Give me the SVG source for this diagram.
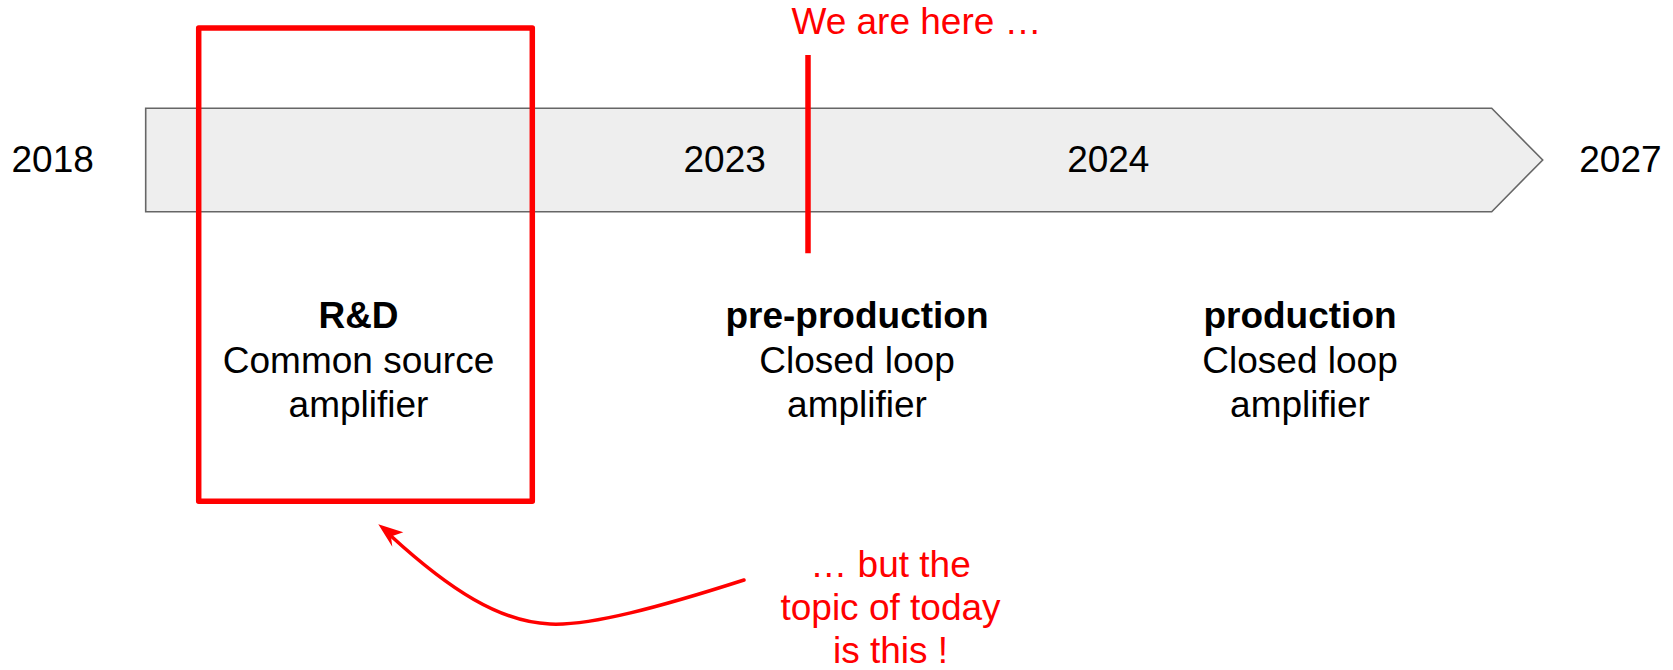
<svg xmlns="http://www.w3.org/2000/svg" width="1673" height="670" viewBox="0 0 1673 670">
  <style>
    text { font-family: "Liberation Sans", Arial, sans-serif; font-size: 37px; text-anchor: middle; }
    .dark { fill: #000000; }
    .hot { fill: #ff0000; }
    .head { font-weight: bold; }
    .frame { fill: none; stroke: #ff0000; stroke-width: 5.5; stroke-linejoin: round; }
    .pointer { fill: none; stroke: #ff0000; stroke-width: 3.5; stroke-linecap: round; }
  </style>
  <rect width="1673" height="670" fill="#ffffff"/>

  <!-- timeline bar -->
  <g id="timeline">
    <polygon points="145.7,108.3 1491.7,108.3 1542.7,160 1491.7,211.7 145.7,211.7" fill="#eeeeee" stroke="#666666" stroke-width="1.6"/>
  </g>

  <!-- year marks -->
  <g id="years" class="dark">
    <text x="52.7" y="172">2018</text>
    <text x="724.7" y="172">2023</text>
    <text x="1108.3" y="172">2024</text>
    <text x="1620.4" y="172">2027</text>
  </g>

  <!-- phase: R&D -->
  <g id="phase-rd" class="dark">
    <text x="358.5" y="328" class="head">R&amp;D</text>
    <text x="358.5" y="373">Common source</text>
    <text x="358.5" y="417">amplifier</text>
  </g>

  <!-- phase: pre-production -->
  <g id="phase-preproduction" class="dark">
    <text x="857" y="328" class="head">pre-production</text>
    <text x="857" y="373">Closed loop</text>
    <text x="857" y="417">amplifier</text>
  </g>

  <!-- phase: production -->
  <g id="phase-production" class="dark">
    <text x="1300" y="328" class="head">production</text>
    <text x="1300" y="373">Closed loop</text>
    <text x="1300" y="417">amplifier</text>
  </g>

  <!-- highlight frame around R&D -->
  <g id="highlight">
    <rect x="198.7" y="28" width="333.6" height="473.3" class="frame"/>
  </g>

  <!-- current position marker -->
  <g id="now-marker">
    <line x1="808" y1="55" x2="808" y2="253.3" stroke="#ff0000" stroke-width="5.5"/>
    <text x="916.5" y="33.5" class="hot">We are here …</text>
  </g>

  <!-- callout note -->
  <g id="note" class="hot">
    <text x="890.5" y="576.7">… but the</text>
    <text x="890.5" y="620">topic of today</text>
    <text x="890.5" y="663">is this !</text>
  </g>

  <!-- connectors -->
  <g id="connectors">
    <path d="M744,580 C660,607 590,626 550,624 C500,622 450,590 391,536" class="pointer"/>
    <polygon points="378.3,524.3 403.3,532.3 391,536.5 392.3,546.7" fill="#ff0000"/>
  </g>
</svg>
